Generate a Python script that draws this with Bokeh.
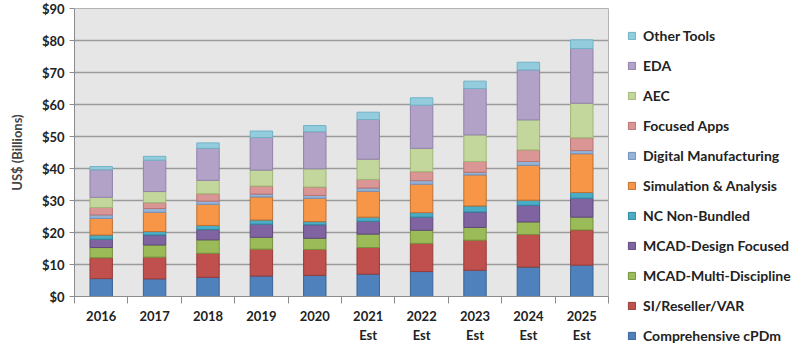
from bokeh.plotting import figure
from bokeh.models import (ColumnDataSource, Legend, LegendItem, FixedTicker,
                          NumeralTickFormatter, Range1d)
from bokeh.embed import file_html
from bokeh.resources import INLINE

years = ["2016", "2017", "2018", "2019", "2020",
         "2021\nEst", "2022\nEst", "2023\nEst", "2024\nEst", "2025\nEst"]

series_names = ["Comprehensive cPDm", "SI/Reseller/VAR", "MCAD-Multi-Discipline",
                "MCAD-Design Focused", "NC Non-Bundled", "Simulation & Analysis",
                "Digital Manufacturing", "Focused Apps", "AEC", "EDA", "Other Tools"]

comprehensive_cpdm = [5.6, 5.5, 6.0, 6.4, 6.6, 7.0, 7.8, 8.2, 9.2, 9.8]
si_reseller_var = [6.5, 6.8, 7.5, 8.4, 8.1, 8.3, 8.8, 9.4, 10.2, 11.0]
mcad_multi_discipline = [3.2, 3.8, 4.2, 3.7, 3.5, 4.2, 4.1, 4.0, 3.9, 4.0]
mcad_design_focused = [2.6, 3.1, 3.2, 4.1, 4.2, 4.0, 4.1, 4.8, 5.2, 5.9]
nc_non_bundled = [1.3, 1.1, 1.3, 1.3, 1.0, 1.3, 1.4, 1.9, 1.6, 1.8]
simulation_analysis = [5.2, 6.0, 6.6, 7.2, 7.3, 8.1, 8.9, 9.7, 10.9, 12.1]
digital_manufacturing = [1.1, 1.2, 1.0, 0.9, 0.9, 1.0, 1.1, 0.8, 1.2, 1.0]
focused_apps = [2.3, 1.8, 2.3, 2.5, 2.6, 2.7, 2.8, 3.4, 3.6, 4.0]
aec = [3.2, 3.5, 4.2, 5.0, 5.7, 6.3, 7.3, 8.3, 9.4, 10.8]
eda = [8.6, 9.8, 10.0, 10.2, 11.6, 12.4, 13.5, 14.5, 15.6, 17.1]
other_tools = [1.0, 1.2, 1.7, 2.0, 1.9, 2.3, 2.3, 2.3, 2.4, 2.7]

y_ticks = [0, 10, 20, 30, 40, 50, 60, 70, 80, 90]

colors = ["#4F81BD", "#C0504D", "#9BBB59", "#8064A2", "#4BACC6", "#F79646",
          "#95B3D7", "#D99694", "#C3D69B", "#B3A2C7", "#93CDDD"]
edges = ["#3A6496", "#963C3A", "#76923C", "#5F497A", "#31859C", "#C0712F",
         "#7092BE", "#B87472", "#9FB878", "#9181AD", "#6FB2C6"]

keys = ["s%d" % i for i in range(len(series_names))]
data = {"x": list(range(len(years)))}
for k, vals in zip(keys, [comprehensive_cpdm, si_reseller_var, mcad_multi_discipline,
                          mcad_design_focused, nc_non_bundled, simulation_analysis,
                          digital_manufacturing, focused_apps, aec, eda, other_tools]):
    data[k] = vals
src = ColumnDataSource(data)

FONT = "Lato"

p = figure(frame_width=534, frame_height=288, output_backend="svg",
           toolbar_location=None, min_border_left=74, min_border_top=8,
           min_border_bottom=50, min_border_right=8,
           x_range=Range1d(-0.5, len(years) - 0.5), y_range=Range1d(0, 90))

p.background_fill_color = "#E6E6E6"
p.border_fill_color = "white"
p.outline_line_color = "#B4B4B4"

rs = p.vbar_stack(keys, x="x", width=0.42, source=src, color=colors,
                  line_color=edges, line_width=1)

# axes
p.yaxis.ticker = FixedTicker(ticks=y_ticks)
p.yaxis.formatter = NumeralTickFormatter(format="$0")
p.yaxis.axis_label = "US$ (Billions)"
p.yaxis.axis_label_text_font = FONT
p.yaxis.axis_label_text_font_style = "bold"
p.yaxis.axis_label_text_font_size = "13px"
p.yaxis.axis_label_standoff = 14
p.yaxis.major_label_text_font = FONT
p.yaxis.major_label_text_font_style = "bold"
p.yaxis.major_label_text_font_size = "13px"
p.yaxis.major_label_text_color = "#222222"
p.yaxis.major_tick_out = 5
p.yaxis.major_tick_in = 0
p.yaxis.minor_tick_line_color = None
p.yaxis.axis_line_color = "#8C8C8C"
p.yaxis.major_tick_line_color = "#8C8C8C"

p.xaxis.ticker = FixedTicker(ticks=list(range(len(years))),
                             minor_ticks=[i - 0.5 for i in range(len(years) + 1)])
p.xaxis.major_label_overrides = {i: y for i, y in enumerate(years)}
p.xaxis.major_tick_line_color = None
p.xaxis.major_tick_out = 6
p.xaxis.minor_tick_out = 7
p.xaxis.minor_tick_in = 0
p.xaxis.minor_tick_line_color = "#8C8C8C"
p.xaxis.axis_line_color = "#8C8C8C"
p.xaxis.major_label_standoff = 4
p.xaxis.major_label_text_font = FONT
p.xaxis.major_label_text_font_style = "bold"
p.xaxis.major_label_text_font_size = "13px"
p.xaxis.major_label_text_color = "#222222"

p.xgrid.grid_line_color = None
p.ygrid.ticker = FixedTicker(ticks=y_ticks)
p.ygrid.grid_line_color = "#9A9A9A"
p.ygrid.grid_line_width = 1.5

items = [LegendItem(label=n, renderers=[r]) for n, r in zip(series_names, rs)][::-1]
legend = Legend(items=items, location=(19, -48), orientation="vertical",
                glyph_width=9, glyph_height=9, label_height=16, spacing=13,
                label_standoff=7, padding=2, margin=0,
                label_text_font=FONT, label_text_font_style="bold",
                label_text_font_size="14px", label_text_color="#222222",
                background_fill_alpha=0, border_line_color=None)
p.add_layout(legend, "right")

open("out.html", "w").write(file_html(p, INLINE))
